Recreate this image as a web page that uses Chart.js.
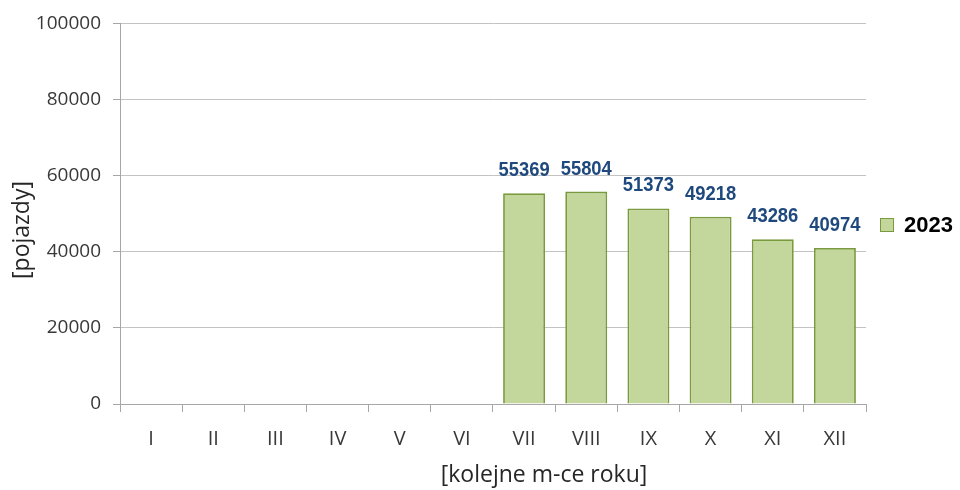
<!DOCTYPE html>
<html>
<head>
<meta charset="utf-8">
<script src="https://cdn.jsdelivr.net/npm/chart.js@4/dist/chart.umd.min.js"></script>
<style>
  html, body { margin: 0; padding: 0; background: #ffffff; }
  #wrap { width: 960px; height: 490px; }
</style>
</head>
<body>
<div id="wrap"><canvas id="c" width="960" height="490"></canvas></div>
<script>
// Miesiące roku (oś X)
const months = ['I', 'II', 'III', 'IV', 'V', 'VI', 'VII', 'VIII', 'IX', 'X', 'XI', 'XII'];
// Liczba pojazdów w kolejnych miesiącach 2023 r. (dane od lipca)
const vehicles2023 = [null, null, null, null, null, null, 55369, 55804, 51373, 49218, 43286, 40974];
const seriesName = '2023';
// Podziałka osi Y
const yMin = 0;
const yMax = 100000;
const yStep = 20000;
const yTitle = '[pojazdy]';
const xTitle = '[kolejne m-ce roku]';

const BAR_FILL = '#c3d69b';
const BAR_EDGE = '#7a9a3e';
const LABEL_BLUE = '#1f497d';
const AXIS_GRAY = '#a6a6a6';
const GRID_GRAY = '#c3c3c3';
const TEXT_DARK = '#383838';
const SANS = '"Open Sans", "Liberation Sans", sans-serif';

// Etykiety wartości nad słupkami
const valueLabels = {
  id: 'valueLabels',
  afterDatasetsDraw(chart) {
    const ctx = chart.ctx;
    ctx.save();
    ctx.font = 'bold 20px "Liberation Sans", Arial, sans-serif';
    ctx.fillStyle = LABEL_BLUE;
    ctx.textAlign = 'center';
    ctx.textBaseline = 'alphabetic';
    chart.data.datasets.forEach((ds, di) => {
      chart.getDatasetMeta(di).data.forEach((bar, i) => {
        const v = ds.data[i];
        if (v === null || v === undefined) return;
        ctx.save();
        ctx.translate(bar.x, bar.y - 17);
        ctx.scale(0.92, 1);
        ctx.fillText(String(v), 0, 0);
        ctx.restore();
      });
    });
    ctx.restore();
  }
};

// Tytuły osi i legenda po prawej stronie
const decorations = {
  id: 'decorations',
  afterDraw(chart) {
    const ctx = chart.ctx;
    const area = chart.chartArea;
    ctx.save();
    ctx.fillStyle = '#262626';
    ctx.font = '23px ' + SANS;
    ctx.textAlign = 'center';
    ctx.textBaseline = 'middle';
    ctx.fillText(xTitle, 544, 475);
    ctx.translate(22, 230);
    ctx.rotate(-Math.PI / 2);
    ctx.fillText(yTitle, 0, 0);
    ctx.restore();

    const ds = chart.data.datasets[0];
    ctx.save();
    const bx = area.right + 14.5, by = 218.5;
    ctx.fillStyle = ds.backgroundColor;
    ctx.fillRect(bx, by, 13, 13);
    ctx.strokeStyle = ds.borderColor;
    ctx.lineWidth = 1;
    ctx.strokeRect(bx, by, 13, 13);
    ctx.fillStyle = '#000000';
    ctx.font = 'bold 22px "Liberation Sans", Arial, sans-serif';
    ctx.textAlign = 'left';
    ctx.textBaseline = 'middle';
    ctx.fillText(ds.label, area.right + 38, 226);
    ctx.restore();
  }
};

new Chart(document.getElementById('c'), {
  type: 'bar',
  data: {
    labels: months,
    datasets: [{
      label: seriesName,
      data: vehicles2023,
      backgroundColor: BAR_FILL,
      borderColor: BAR_EDGE,
      borderWidth: 1.8,
      borderSkipped: 'start',
      categoryPercentage: 1,
      barPercentage: 0.675
    }]
  },
  options: {
    responsive: false,
    animation: false,
    devicePixelRatio: 1,
    layout: { padding: { top: 21, right: 94, left: 0, bottom: 0 } },
    plugins: {
      legend: { display: false },
      tooltip: { enabled: false }
    },
    scales: {
      x: {
        grid: {
          offset: true,
          drawOnChartArea: false,
          color: AXIS_GRAY,
          tickLength: 8,
          lineWidth: 1
        },
        border: { color: AXIS_GRAY, width: 1 },
        ticks: {
          color: TEXT_DARK,
          font: { family: SANS, size: 20 },
          padding: 15,
          maxRotation: 0
        },
        afterFit(scale) { scale.height = 86; }
      },
      y: {
        min: yMin,
        max: yMax,
        grid: {
          color: GRID_GRAY,
          tickColor: AXIS_GRAY,
          tickLength: 7,
          lineWidth: 1
        },
        border: { color: AXIS_GRAY, width: 1 },
        ticks: {
          stepSize: yStep,
          color: TEXT_DARK,
          font: { family: SANS, size: 19 },
          padding: 12,
          callback: (value) => String(value)
        },
        afterFit(scale) { scale.width = 120; }
      }
    }
  },
  plugins: [valueLabels, decorations]
});
</script>
</body>
</html>
